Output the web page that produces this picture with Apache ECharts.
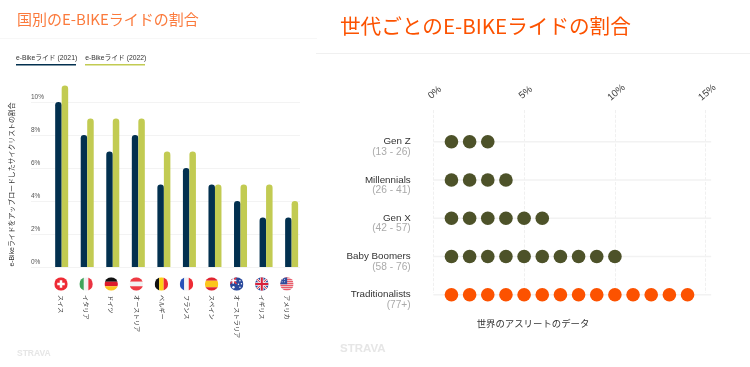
<!DOCTYPE html>
<html><head><meta charset="utf-8">
<style>html,body{margin:0;padding:0;background:#fff}#c{width:750px;height:367px}</style>
<script src="https://cdn.jsdelivr.net/npm/echarts@6/dist/echarts.min.js"></script>
</head><body><div id="c"></div>
<script>
const countries = ['スイス','イタリア','ドイツ','オーストリア','ベルギー','フランス','スペイン','オーストラリア','イギリス','アメリカ'];
const share2021 = [10,8,7,8,5,6,5,4,3,3];
const share2022 = [11,9,9,9,7,7,5,5,5,4];
const yTicks = [0,2,4,6,8,10];
const generations = ['Gen Z','Millennials','Gen X','Baby Boomers','Traditionalists'];
const ages = ['(13 - 26)','(26 - 41)','(42 - 57)','(58 - 76)','(77+)'];
const genShare = [3,4,6,10,14];

const FONT = '"Liberation Sans","Noto Sans CJK JP",sans-serif';
const CJK = '"Noto Sans CJK JP",sans-serif';
const NAVY='#02304f', LIME='#c2cb52', OLIVE='#4d5229', ORANGE='#fc5200';

const r=(x,y,width,height,fill)=>({type:'rect',shape:{x,y,width,height},style:{fill}});
const c=(cx,cy,rad,fill)=>({type:'circle',shape:{cx,cy,r:rad},style:{fill}});
const l=(x1,y1,x2,y2,stroke,lineWidth)=>({type:'line',shape:{x1,y1,x2,y2},style:{stroke,lineWidth,fill:null}});
const usStripes=[0,1,2,3,4,5,6].map(i=>r(0,i*4,27,2,'#e8283c'));
const flags = [
  [r(0,0,27,27,'#ee2b35'),r(11,6,5,15,'#fff'),r(6,11,15,5,'#fff')],
  [r(0,0,9,27,'#3fa35a'),r(9,0,9,27,'#f2f2f2'),r(18,0,9,27,'#ea3341')],
  [r(0,0,27,9,'#111'),r(0,9,27,9,'#dd1c2b'),r(0,18,27,9,'#fcc61d')],
  [r(0,0,27,9,'#ee3a43'),r(0,9,27,9,'#f2f2f2'),r(0,18,27,9,'#ee3a43')],
  [r(0,0,9,27,'#111'),r(9,0,9,27,'#fcd116'),r(18,0,9,27,'#ee2b35')],
  [r(0,0,9,27,'#2750b8'),r(9,0,9,27,'#f2f2f2'),r(18,0,9,27,'#ee2b35')],
  [r(0,0,27,7,'#e0252f'),r(0,7,27,13,'#fcc61d'),r(0,20,27,7,'#e0252f')],
  [r(0,0,27,27,'#2a4a9c'),l(0,0,13,13,'#ee3a43',3),l(13,0,0,13,'#ee3a43',3),r(5,0,3,13,'#fff'),r(0,5,13,3,'#fff'),
    c(7,20,2.4,'#fff'),c(20,7,1.4,'#fff'),c(23,13,1.4,'#fff'),c(17,14,1.4,'#fff'),c(20,20,1.4,'#fff')],
  [r(0,0,27,27,'#2a4a9c'),l(0,0,27,27,'#f0f0f0',5),l(27,0,0,27,'#f0f0f0',5),l(0,0,27,27,'#d8203a',2),l(27,0,0,27,'#d8203a',2),
    r(10,0,7,27,'#f0f0f0'),r(0,10,27,7,'#f0f0f0'),r(11.5,0,4,27,'#d8203a'),r(0,11.5,27,4,'#d8203a')],
  [r(0,0,27,27,'#f2f2f2'),...usStripes,r(0,0,14,14,'#2f4c9c'),c(4,4,1,'#fff'),c(9,4,1,'#fff'),c(4,9,1,'#fff'),c(9,9,1,'#fff')]
];

const xMaxRight = 15, lineEnd = 15.3;
const dots = [];
genShare.forEach((n,i)=>{ for(let k=1;k<=n;k++) dots.push({value:[k,generations[i]],itemStyle:{color:i===4?ORANGE:OLIVE,opacity:1}}); });

const chart = echarts.init(document.getElementById('c'),null,{renderer:'canvas'});
chart.setOption({
  animation:false, backgroundColor:'#fff', textStyle:{fontFamily:FONT},
  title:[
    {text:'国別のE-BIKEライドの割合',left:12,top:7,textStyle:{fontSize:15,fontWeight:'normal',color:'#fb7a3c',fontFamily:CJK}},
    {text:'世代ごとのE-BIKEライドの割合',left:335,top:11,textStyle:{fontSize:20.6,fontWeight:'normal',color:ORANGE,fontFamily:CJK}},
    {text:'世界のアスリートのデータ',left:528,textAlign:'center',top:315,textStyle:{fontSize:9.4,fontWeight:'normal',color:'#333',fontFamily:FONT}}
  ],
  legend:{left:11,top:55,itemWidth:0,itemHeight:0,itemGap:3,padding:0,selectedMode:false,icon:'rect',
    data:['e-Bikeライド (2021)','e-Bikeライド (2022)'],
    textStyle:{fontSize:6.8,color:'#333',fontFamily:FONT}},
  grid:[
    {left:48.9,width:255.5,top:85.5,height:181.5},
    {left:31,width:269,top:102,height:165},
    {left:48.45,width:251,top:283,height:2},
    {left:433.3,width:272.4,top:110,height:183},
    {left:433.3,width:272.4,top:122.6,height:191.25}
  ],
  xAxis:[
    {gridIndex:0,type:'category',data:countries,show:false},
    {gridIndex:1,type:'category',data:countries,show:false},
    {gridIndex:2,type:'category',data:countries,axisLine:{show:false},axisTick:{show:false},
      axisLabel:{rotate:-90,margin:10,fontSize:6.2,color:'#333',interval:0,fontFamily:FONT}},
    {gridIndex:3,type:'value',position:'top',min:0,max:xMaxRight,interval:5,axisLine:{show:false},axisTick:{show:false},
      splitLine:{show:true,lineStyle:{color:'#ececec',type:'dashed',width:0.8}},
      axisLabel:{rotate:40,margin:16,fontSize:9.8,color:'#444',align:'center',verticalAlign:'middle',padding:[0,0,0,4],formatter:v=>v+'%',fontFamily:FONT}},
    {gridIndex:4,type:'value',min:0,max:xMaxRight,show:false}
  ],
  yAxis:[
    {gridIndex:0,type:'value',min:0,max:11,show:false},
    {gridIndex:1,type:'value',min:yTicks[0],max:yTicks[yTicks.length-1],interval:2,axisLine:{show:false},axisTick:{show:false},
      splitLine:{show:true,lineStyle:{color:'#f3f3f3',width:1}},
      axisLabel:{inside:true,margin:0,fontSize:6.5,color:'#555',verticalAlign:'bottom',padding:[0,0,2,0],formatter:v=>v+'%',fontFamily:FONT},
      name:'e-Bikeライドをアップロードしたサイクリストの割合',nameLocation:'middle',nameRotate:90,nameGap:15.5,
      nameTextStyle:{fontSize:6.9,color:'#333',fontFamily:FONT}},
    {gridIndex:2,type:'value',min:0,max:1,show:false},
    {gridIndex:3,type:'value',min:0,max:1,show:false},
    {gridIndex:4,type:'category',inverse:true,data:generations,axisLine:{show:false},axisTick:{show:false},
      axisLabel:{margin:22.6,align:'right',padding:[10.3,0,0,0],interval:0,
        formatter:(v,i)=>`{n|${v}}\n{a|${ages[i]}}`,
        rich:{n:{fontSize:9.8,color:'#333',lineHeight:10.3,align:'right',fontFamily:FONT},a:{fontSize:10.2,color:'#aaa',lineHeight:10.3,align:'right',fontFamily:FONT}}}}
  ],
  series:[
    {name:'e-Bikeライド (2021)',type:'bar',xAxisIndex:0,yAxisIndex:0,data:share2021,barWidth:6.5,barGap:'0%',
      itemStyle:{color:NAVY,borderRadius:[3.2,3.2,0,0]},z:3},
    {name:'e-Bikeライド (2022)',type:'bar',xAxisIndex:0,yAxisIndex:0,data:share2022,barWidth:6.5,barGap:'0%',
      itemStyle:{color:LIME,borderRadius:[3.2,3.2,0,0]},z:3},
    {type:'custom',xAxisIndex:2,yAxisIndex:2,silent:true,clip:false,
      data:countries.map(n=>[n,0.5]),encode:{x:0,y:1},
      renderItem:(p,api)=>{
        const pt=api.coord([api.value(0),api.value(1)]);
        const s=13.5/27;
        return {type:'group',x:pt[0]-6.75,y:pt[1]-6.75,scaleX:s,scaleY:s,
          clipPath:{type:'circle',shape:{cx:13.5,cy:13.5,r:13.5}},
          children:flags[p.dataIndex]};
      }},
    ...generations.map(g=>({type:'line',xAxisIndex:4,yAxisIndex:4,symbol:'none',clip:false,silent:true,z:1,
      lineStyle:{color:'#f2f2f2',width:1.3},data:[[0,g],[lineEnd,g]]})),
    {type:'scatter',xAxisIndex:4,yAxisIndex:4,symbolSize:13.6,silent:true,z:3,data:dots}
  ],
  graphic:[
    {type:'rect',shape:{x:0,y:38,width:317,height:1},style:{fill:'#f7f7f7'},silent:true},
    {type:'rect',shape:{x:316,y:53,width:434,height:1},style:{fill:'#f0f0f0'},silent:true},
    {type:'rect',shape:{x:16,y:64,width:60,height:1.6},style:{fill:NAVY},silent:true},
    {type:'rect',shape:{x:85,y:64,width:60,height:1.6},style:{fill:LIME},silent:true},
    {type:'text',left:17,top:349,style:{text:'STRAVA',fontSize:8.5,fontWeight:900,fill:'#e6e6e6',fontFamily:FONT},silent:true},
    {type:'text',left:340,top:343,style:{text:'STRAVA',fontSize:11.5,fontWeight:900,fill:'#e6e6e6',fontFamily:FONT},silent:true}
  ]
});
</script></body></html>
